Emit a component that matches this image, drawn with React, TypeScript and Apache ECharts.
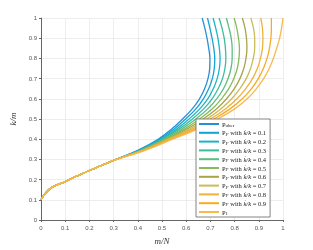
import React, { useEffect, useRef } from "react";
import * as echarts from "echarts";

// k/m levels (y) at which each curve's m/N (x) was read
const yLevels = [0.1, 0.135, 0.165, 0.19, 0.218, 0.245, 0.27, 0.295, 0.345, 0.40, 0.45, 0.50, 0.55, 0.60, 0.65, 0.70, 0.75, 0.80, 0.85, 0.90, 0.95, 1.0];
// common lower branch (all curves overlap here)
const sharedX = [0, 0.02, 0.05, 0.1, 0.15, 0.2, 0.25, 0.3];

// upper branches (x at y = 0.345 ... 1.0)
const xUber = [0.400, 0.484, 0.540, 0.585, 0.625, 0.655, 0.676, 0.690, 0.697, 0.698, 0.693, 0.686, 0.677, 0.666];
const xF01 = [0.403, 0.490, 0.550, 0.598, 0.640, 0.671, 0.693, 0.708, 0.716, 0.718, 0.714, 0.707, 0.698, 0.688];
const xF02 = [0.406, 0.496, 0.560, 0.612, 0.656, 0.689, 0.712, 0.728, 0.737, 0.740, 0.737, 0.731, 0.722, 0.711];
const xF03 = [0.409, 0.502, 0.570, 0.626, 0.672, 0.707, 0.732, 0.750, 0.760, 0.764, 0.762, 0.757, 0.748, 0.736];
const xF04 = [0.412, 0.508, 0.581, 0.640, 0.689, 0.726, 0.754, 0.773, 0.785, 0.790, 0.790, 0.786, 0.777, 0.766];
const xF05 = [0.415, 0.514, 0.592, 0.655, 0.707, 0.746, 0.776, 0.797, 0.811, 0.818, 0.820, 0.816, 0.809, 0.798];
const xF06 = [0.418, 0.520, 0.603, 0.670, 0.725, 0.767, 0.799, 0.822, 0.838, 0.847, 0.851, 0.849, 0.843, 0.832];
const xF07 = [0.421, 0.526, 0.614, 0.685, 0.743, 0.788, 0.822, 0.848, 0.866, 0.877, 0.883, 0.883, 0.878, 0.867];
const xF08 = [0.424, 0.532, 0.625, 0.700, 0.762, 0.810, 0.846, 0.874, 0.894, 0.907, 0.915, 0.917, 0.915, 0.908];
const xF09 = [0.427, 0.538, 0.636, 0.715, 0.781, 0.832, 0.870, 0.898, 0.919, 0.934, 0.944, 0.950, 0.952, 0.952];
const xP1 = [0.430, 0.544, 0.647, 0.730, 0.800, 0.852, 0.890, 0.920, 0.943, 0.960, 0.974, 0.986, 0.994, 1.0];

const seriesNames = ["Puber", "F0.1", "F0.2", "F0.3", "F0.4", "F0.5", "F0.6", "F0.7", "F0.8", "F0.9", "P1"];
const ratioLabels = ["", "0.1", "0.2", "0.3", "0.4", "0.5", "0.6", "0.7", "0.8", "0.9", ""];
const tails = [xUber, xF01, xF02, xF03, xF04, xF05, xF06, xF07, xF08, xF09, xP1];
const colors = ["#2a8ed6", "#12a3d4", "#1bb4c6", "#3abd9c", "#5dbd80", "#86bc5c", "#a9a447", "#cabb5c", "#efb23c", "#f6ab22", "#f8b94c"];

export default function App() {
  const ref = useRef<HTMLDivElement>(null);
  useEffect(() => {
    if (!ref.current) return;
    const chart = echarts.init(ref.current, null, { renderer: "svg" });
    const serif = "'Liberation Serif', 'DejaVu Serif', serif";
    const series = seriesNames.map((name, i) => {
      const xs = sharedX.concat(tails[i]);
      return {
        name,
        type: "line",
        data: yLevels.map((y, j) => [xs[j], y]),
        smooth: 0.4,
        symbol: "none",
        showSymbol: false,
        lineStyle: { width: 1.3, color: colors[i] },
        itemStyle: { color: colors[i] },
      };
    });
    chart.setOption({
      animation: false,
      grid: { left: 41, right: 30, top: 18, bottom: 28 },
      xAxis: {
        type: "value",
        min: 0,
        max: 1,
        interval: 0.1,
        name: "m/N",
        nameLocation: "middle",
        nameGap: 16,
        nameTextStyle: { fontFamily: "'Liberation Serif', serif", fontStyle: "italic", fontSize: 9, color: "#333" },
        axisLine: { lineStyle: { color: "#666", width: 1 } },
        axisTick: { show: true, length: 2, lineStyle: { color: "#666" } },
        axisLabel: { fontSize: 6, color: "#555", margin: 5, fontFamily: "'Liberation Sans', sans-serif" },
        splitLine: { show: true, lineStyle: { color: "#e8e8e8", width: 0.8 } },
      },
      yAxis: {
        type: "value",
        min: 0,
        max: 1,
        interval: 0.1,
        name: "k/m",
        nameLocation: "middle",
        nameGap: 16,
        nameTextStyle: { fontFamily: "'Liberation Serif', serif", fontStyle: "italic", fontSize: 9, color: "#333" },
        axisLine: { show: true, lineStyle: { color: "#666", width: 1 } },
        axisTick: { show: true, length: 2, lineStyle: { color: "#666" } },
        axisLabel: { fontSize: 6, color: "#555", margin: 4, fontFamily: "'Liberation Sans', sans-serif" },
        splitLine: { show: true, lineStyle: { color: "#e8e8e8", width: 0.8 } },
      },
      legend: {
        orient: "vertical",
        left: 196,
        top: 119,
        width: 80,
        padding: [1, 4, 1, 3],
        itemGap: 0.8,
        itemWidth: 20,
        itemHeight: 2,
        icon: "rect",
        backgroundColor: "#fff",
        borderColor: "#666",
        borderWidth: 0.8,
        borderRadius: 0,
        formatter: (name: string) => {
          const i = seriesNames.indexOf(name);
          if (name === "Puber") return "{r|P}{s|uber}";
          if (name === "P1") return "{r|P}{s|1}";
          return "{r|P}{si|F}{r| with }{i|k̇/k}{r| = " + ratioLabels[i] + "}";
        },
        textStyle: {
          fontFamily: serif,
          fontSize: 6.5,
          color: "#222",
          lineHeight: 8,
          padding: [0, 0, 0, -2],
          rich: {
            r: { fontFamily: serif, fontSize: 6.5, color: "#222", lineHeight: 8 },
            i: { fontFamily: serif, fontStyle: "italic", fontSize: 6.5, color: "#222", lineHeight: 8 },
            s: { fontFamily: serif, fontSize: 5, color: "#222", lineHeight: 8, verticalAlign: "bottom", padding: [3, 0, 0, 0] },
            si: { fontFamily: serif, fontStyle: "italic", fontSize: 5, color: "#222", lineHeight: 8, verticalAlign: "bottom", padding: [3, 0, 0, 0] },
          },
        },
        data: seriesNames,
      },
      series,
    });
    return () => chart.dispose();
  }, []);
  return <div ref={ref} style={{ position: "fixed", left: 0, top: 0, width: 313, height: 250 }} />;
}
